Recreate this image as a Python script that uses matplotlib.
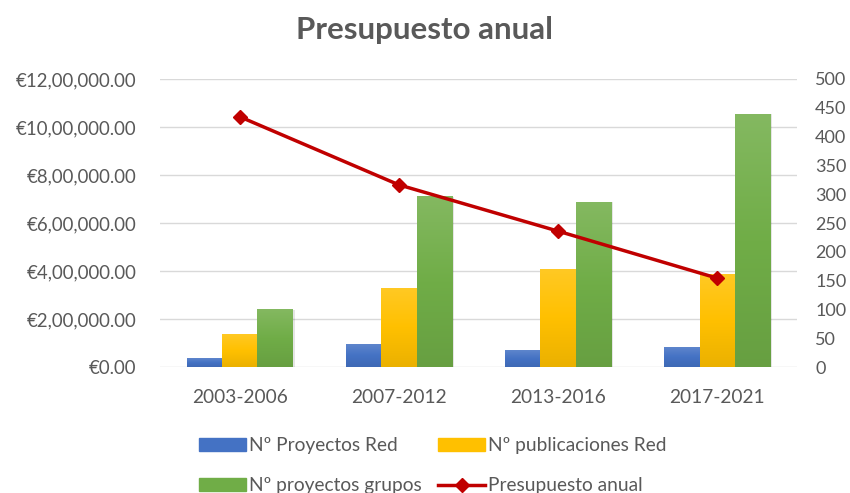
import matplotlib
matplotlib.use("Agg")
import matplotlib.pyplot as plt
from matplotlib.ticker import FuncFormatter, MultipleLocator
from matplotlib.patches import Patch
from matplotlib.lines import Line2D
from matplotlib.colors import LinearSegmentedColormap, to_rgb
import numpy as np

plt.rcParams['font.family'] = ['Lato', 'DejaVu Sans']

categories = ["2003-2006", "2007-2012", "2013-2016", "2017-2021"]
proyectos_red = [15, 39, 28, 33]
publicaciones_red = [56, 136, 169, 160]
proyectos_grupos = [99, 296, 286, 439]
presupuesto = [1043000, 759000, 566000, 370000]

GRAY = "#595959"
C_BLUE = "#4472C4"
C_YEL = "#FFC000"
C_GRN = "#70AD47"
C_RED = "#C00000"
FS = 13.8


def indian_euro(v, pos=None):
    v = int(round(v))
    if v == 0:
        return "€0.00"
    s = str(v)
    last3 = s[-3:]
    rest = s[:-3]
    groups = []
    while len(rest) > 2:
        groups.insert(0, rest[-2:])
        rest = rest[:-2]
    if rest:
        groups.insert(0, rest)
    return "€" + ",".join(groups + [last3]) + ".00"


def grad_cmap(c):
    r = np.array(to_rgb(c))
    light = r + (1 - r) * 0.14
    dark = r * 0.92
    return LinearSegmentedColormap.from_list("g", [dark, r, light])


fig = plt.figure(figsize=(8.5, 4.93), dpi=100)
pos = [160/850, 1-367/493, 637/850, 288/493]
ax = fig.add_axes(pos)
ax2 = ax.twinx()
ax3 = fig.add_axes(pos, sharex=ax, sharey=ax)
ax3.patch.set_visible(False)
ax3.axis('off')

x = np.arange(len(categories))
bw = 1/4.5

ax.set_xlim(-0.5, len(categories)-0.5)
ax.set_ylim(0, 1200000)
ax.yaxis.set_major_locator(MultipleLocator(200000))
ax.yaxis.set_major_formatter(FuncFormatter(indian_euro))
ax.grid(axis='y', color="#D9D9D9", linewidth=1.0)
ax.set_axisbelow(True)
ax.set_xticks(x)
ax.set_xticklabels(categories)
for a in (ax, ax2, ax3):
    for sp in a.spines.values():
        sp.set_visible(False)
ax.tick_params(axis='x', length=0, labelsize=FS, colors=GRAY, pad=16)
ax.tick_params(axis='y', length=0, labelsize=13.4, colors=GRAY, pad=17)

ax2.yaxis.tick_right()
ax2.tick_params(axis='y', length=0, labelsize=13.0, colors=GRAY, pad=13)

series = [(proyectos_red, C_BLUE, -bw), (publicaciones_red, C_YEL, 0), (proyectos_grupos, C_GRN, bw)]
grad = np.linspace(0, 1, 256).reshape(-1, 1)
for vals, col, off in series:
    bars = ax2.bar(x + off, vals, bw, color=col)
    cm = grad_cmap(col)
    for b in bars:
        bx, by = b.get_x(), b.get_y()
        bwid, bh = b.get_width(), b.get_height()
        # soft shadow
        ax2.bar(bx + bwid/2 + 0.012, bh, bwid, bottom=by, color="#000000", alpha=0.10, zorder=0.9)
        ax2.imshow(grad, extent=[bx, bx + bwid, by, by + bh], origin='lower',
                   aspect='auto', cmap=cm, zorder=1.1, interpolation='bilinear')
ax2.set_xlim(-0.5, len(categories)-0.5)
ax2.set_ylim(0, 500)
ax2.yaxis.set_major_locator(MultipleLocator(50))

ax3.plot(x, presupuesto, color=C_RED, linewidth=2.5, marker='D', markersize=7,
         label="Presupuesto anual")

fig.text(0.5, 1-30/493, "Presupuesto anual", ha='center', va='center',
         fontsize=22.5, fontweight='bold', color=GRAY)

handles = [
    Patch(color=C_BLUE),
    Patch(color=C_GRN),
    Patch(color=C_YEL),
    Line2D([0], [0], color=C_RED, linewidth=2.5, marker='D', markersize=7),
]
labels = ["Nº Proyectos Red", "Nº proyectos grupos", "Nº publicaciones Red", "Presupuesto anual"]
leg = fig.legend(handles, labels, ncol=2, loc='upper left',
                 bbox_to_anchor=(182/850, 1-420/493), frameon=False,
                 fontsize=FS, handlelength=2.45, handleheight=0.6,
                 handletextpad=0.15, columnspacing=0.85, labelspacing=1.2,
                 labelcolor=GRAY)

fig.savefig("out.png", dpi=100)
